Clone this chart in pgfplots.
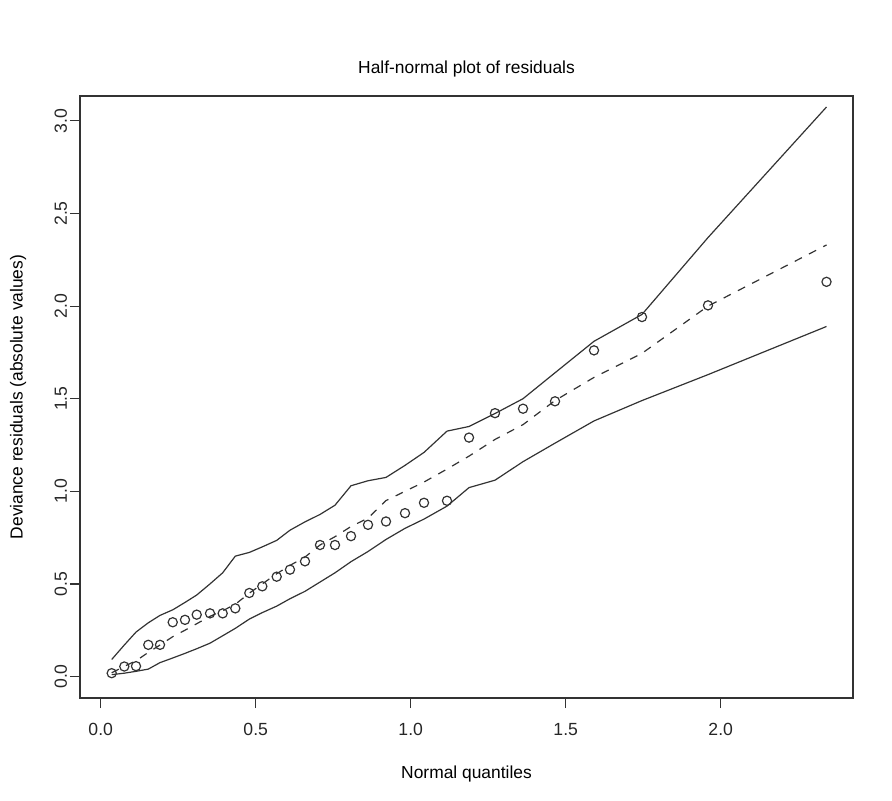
\documentclass[border=0pt]{standalone}
\usepackage{fontspec}
\setmainfont{Liberation Sans}
\usepackage{pgfplots}
\pgfplotsset{compat=1.18}
\usepackage{pgfplotstable}

% half-normal plot: observed |residuals|, simulated envelope (lo, up) and median
\pgfplotstableread{
x      obs    lo     med    up
0.0355 0.018  0.010  0.020  0.092
0.0761 0.054  0.018  0.055  0.170
0.1139 0.056  0.028  0.085  0.240
0.1535 0.171  0.040  0.130  0.290
0.1913 0.171  0.075  0.170  0.330
0.2323 0.293  0.100  0.215  0.360
0.2719 0.306  0.125  0.250  0.400
0.3097 0.334  0.150  0.285  0.440
0.3526 0.341  0.180  0.325  0.500
0.3935 0.341  0.220  0.355  0.560
0.4342 0.368  0.260  0.390  0.650
0.4794 0.451  0.310  0.450  0.670
0.5213 0.487  0.345  0.500  0.700
0.5677 0.539  0.380  0.555  0.735
0.6106 0.577  0.420  0.600  0.790
0.6590 0.622  0.460  0.645  0.835
0.7074 0.710  0.510  0.710  0.875
0.7558 0.710  0.560  0.755  0.925
0.8074 0.758  0.620  0.810  1.030
0.8623 0.819  0.675  0.855  1.057
0.9203 0.837  0.740  0.950  1.075
0.9816 0.882  0.800  1.000  1.140
1.0429 0.938  0.850  1.050  1.210
1.1171 0.949  0.920  1.120  1.325
1.1881 1.290  1.020  1.190  1.350
1.2719 1.422  1.060  1.280  1.420
1.3623 1.446  1.160  1.360  1.500
1.4655 1.486  1.260  1.490  1.640
1.5913 1.761  1.380  1.615  1.810
1.7461 1.941  1.490  1.745  1.955
1.9590 2.004  1.630  2.000  2.370
2.3413 2.131  1.890  2.330  3.075
}\hnp

\begin{document}
\begin{tikzpicture}
\useasboundingbox (-40pt,-51pt) rectangle (406pt,349pt);
\begin{axis}[
  at={(0,0)}, anchor=south west,
  scale only axis,
  width=386.5pt, height=301pt,
  xmin=-0.0668, xmax=2.4268,
  ymin=-0.1161, ymax=3.1344,
  axis line style={black!80, line width=0.6pt},
  tick pos=left,
  tick align=outside,
  major tick length=5pt,
  tick style={black!80, line width=0.6pt},
  xtick={0,0.5,1,1.5,2},
  xticklabels={0.0,0.5,1.0,1.5,2.0},
  ytick={0,0.5,1,1.5,2,2.5,3},
  yticklabels={0.0,0.5,1.0,1.5,2.0,2.5,3.0},
  tick label style={font=\fontsize{8.8}{10}\selectfont, text=black!85},
  xticklabel style={anchor=north, inner sep=0pt, yshift=-7.5pt},
  yticklabel style={xshift=2pt, rotate=90, anchor=south},
  title={Half-normal plot of residuals},
  every axis title/.style={at={(axis description cs:0.5,1)}, yshift=13.5pt, anchor=center, font=\fontsize{8.7}{10}\selectfont},
  xlabel={Normal quantiles},
  every axis x label/.style={at={(axis description cs:0.5,0)}, yshift=-38pt, anchor=center, font=\fontsize{8.7}{10}\selectfont},
  ylabel={Deviance residuals (absolute values)},
  every axis y label/.style={at={(axis description cs:0,0.5)}, xshift=-31pt, rotate=90, anchor=center, font=\fontsize{8.7}{10}\selectfont},
  clip=false,
]
\addplot [black!80, line width=0.6pt] table [x=x, y=up] {\hnp};
\addplot [black!80, line width=0.6pt] table [x=x, y=lo] {\hnp};
\addplot [black!80, line width=0.6pt, dash pattern=on 4pt off 4pt] table [x=x, y=med] {\hnp};
\addplot [only marks, mark=o, mark size=2.3pt, mark options={black!80, line width=0.6pt}] table [x=x, y=obs] {\hnp};
\end{axis}
\end{tikzpicture}
\end{document}
